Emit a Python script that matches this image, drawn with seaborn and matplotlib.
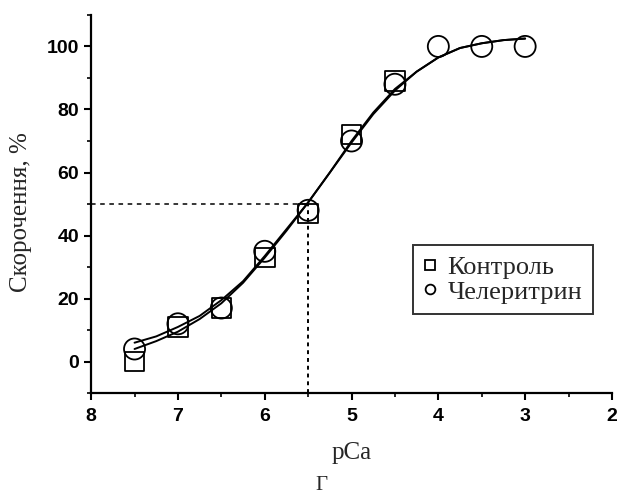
import matplotlib
matplotlib.use("Agg")
import matplotlib.pyplot as plt
import seaborn as sns
import pandas as pd
import numpy as np
from matplotlib.ticker import MultipleLocator
from matplotlib.lines import Line2D

sns.set_theme(style="white")
plt.rcParams['font.family'] = ['DejaVu Sans']

# ---- data ----
pca_points = [7.5, 7.0, 6.5, 6.0, 5.5, 5.0, 4.5, 4.0, 3.5, 3.0]
control = [0, 11, 17, 33, 47, 72, 89, None, None, None]
chelerythrine = [4, 12, 17, 35, 48, 70, 88, 100, 100, 100]

curve_pca = [7.5, 7.25, 7.0, 6.75, 6.5, 6.25, 6.0, 5.75, 5.5, 5.25, 5.0,
             4.75, 4.5, 4.25, 4.0, 3.75, 3.5, 3.25, 3.0]
curve_control = [4, 6.5, 9.5, 13.5, 18.5, 25, 33, 41.5, 50.5, 60, 69.5,
                 78.5, 86, 92, 96.5, 99.5, 101, 102, 102.5]
curve_chel = [6, 8, 11, 14.5, 19.5, 25.5, 33.5, 42, 50.5, 60, 70,
              79, 86.5, 92, 96.5, 99.5, 101, 102, 102.5]

x_ticks = [8, 7, 6, 5, 4, 3, 2]
y_ticks = [0, 20, 40, 60, 80, 100]
half_x = 5.5
half_y = 50

labels = ["Контроль", "Челеритрин"]

fig = plt.figure(figsize=(6.2, 4.97), dpi=100)
ax = fig.add_axes([0.147, 0.209, 0.840, 0.761])

cdf = pd.DataFrame({"x": curve_pca, "a": curve_control, "b": curve_chel})
sns.lineplot(data=cdf, x="x", y="a", ax=ax, color="black", lw=1.4, sort=False)
sns.lineplot(data=cdf, x="x", y="b", ax=ax, color="black", lw=1.4, sort=False)

ax.plot([8, half_x], [half_y, half_y], ls=(0, (3, 3)), color="black", lw=1.1)
ax.plot([half_x, half_x], [-10, half_y], ls=(0, (2, 2)), color="black", lw=1.4)

pdf = pd.DataFrame({"x": pca_points, "c": control, "h": chelerythrine}).astype(float)
sns.scatterplot(data=pdf.dropna(subset=["c"]), x="x", y="c", ax=ax, marker="s", s=200,
                facecolor="none", edgecolor="black", linewidth=1.3)
sns.scatterplot(data=pdf, x="x", y="h", ax=ax, marker="o", s=230,
                facecolor="none", edgecolor="black", linewidth=1.3)

ax.set_xlim(8, 2)
ax.set_ylim(-10, 110)
ax.set_xticks(x_ticks)
ax.set_yticks(y_ticks)
ax.xaxis.set_minor_locator(MultipleLocator(0.5))
ax.yaxis.set_minor_locator(MultipleLocator(10))
ax.tick_params(which="major", direction="out", length=5, width=1.5,
               colors="black", labelsize=14, bottom=True, left=True)
ax.tick_params(axis="x", which="major", pad=6)
ax.tick_params(which="minor", direction="out", length=3, width=1.2,
               colors="black", bottom=True, left=True)
for lab in ax.get_xticklabels() + ax.get_yticklabels():
    lab.set_fontweight("bold")
    lab.set_family("Liberation Sans")

for s in ["top", "right"]:
    ax.spines[s].set_visible(False)
for s in ["left", "bottom"]:
    ax.spines[s].set_color("black")
    ax.spines[s].set_linewidth(1.6)

ax.set_xlabel("pCa", family="Liberation Serif", fontsize=18, labelpad=12)
ax.set_ylabel("Скорочення, %", family="Liberation Serif", fontsize=18)
ax.yaxis.set_label_coords(-0.113, 0.48)

handles = [Line2D([], [], marker="s", ls="none", mfc="none", mec="black", ms=7, mew=1.3),
           Line2D([], [], marker="o", ls="none", mfc="none", mec="black", ms=7, mew=1.3)]
leg = ax.legend(handles, labels, loc="upper left", bbox_to_anchor=(0.618, 0.392),
                prop={"family": "Liberation Serif", "size": 19}, frameon=True,
                fancybox=False, edgecolor="black", handlelength=0.5,
                handletextpad=0.4, borderpad=0.4, labelspacing=0.05, borderaxespad=0)
leg.get_frame().set_linewidth(1.4)

fig.text(0.518, 1 - 476 / 497, "Г", family="Liberation Serif", fontsize=15,
         ha="center", va="top")

fig.savefig("out.png", dpi=100)
